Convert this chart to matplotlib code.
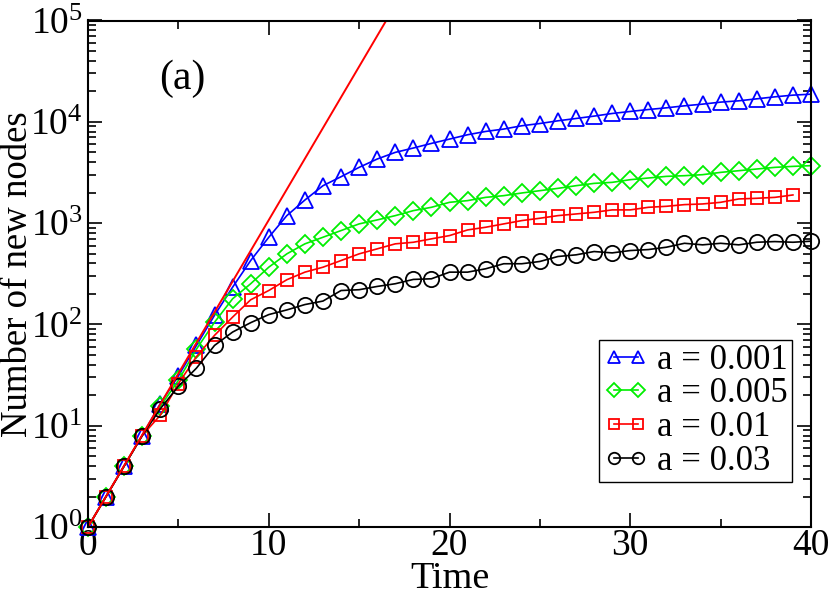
import matplotlib
matplotlib.use('Agg')
import matplotlib.pyplot as plt

# datos
time = list(range(41))
time_short = list(range(40))

nodes_a0001 = [1, 2, 4, 8, 16.5, 31,
               62, 123, 233, 427, 724,
               1185, 1690, 2340, 2870, 3550,
               4290, 4990, 5510, 6120, 6750,
               7450, 8030, 8480, 9140, 9620,
               10230, 10780, 11380, 12080, 12650,
               13220, 13740, 14380, 14940, 15640,
               16110, 16860, 17640, 18330, 18740]
nodes_a0005 = [1, 2, 4, 8, 15.5, 28,
               57, 105, 179, 252, 367,
               497, 624, 725, 844, 982,
               1075, 1185, 1328, 1432, 1604,
               1667, 1795, 1866, 1983, 2090,
               2203, 2340, 2467, 2525, 2683,
               2787, 2893, 2938, 3006, 3168,
               3290, 3420, 3550, 3630, 3690]
nodes_a001 = [1, 2, 4, 8, 12.7, 26,
              48, 78, 118, 175, 216,
              276, 328, 367, 427, 497,
              557, 624, 647, 699, 753,
              856, 910, 982, 1059, 1117,
              1185, 1231, 1279, 1350, 1350,
              1432, 1465, 1522, 1545, 1604,
              1731, 1758, 1795, 1896]
nodes_a003 = [1, 2, 4, 8, 14.7, 24.5,
              37, 62, 84, 104, 125,
              139, 157, 170, 216, 220,
              237, 252, 278, 282, 328,
              328, 354, 397, 397, 418,
              468, 486, 524, 508, 536,
              548, 578, 632, 610, 632,
              610, 647, 657, 647, 663]

# recta exponencial (roja)
fit_time = [0, 16.5]
fit_nodes = [1, 1e5]

plt.rcParams['font.family'] = ['Liberation Serif', 'DejaVu Serif']
plt.rcParams['mathtext.fontset'] = 'custom'
plt.rcParams['mathtext.rm'] = 'Liberation Serif'
plt.rcParams['mathtext.it'] = 'Liberation Serif:italic'
plt.rcParams['mathtext.bf'] = 'Liberation Serif:bold'

fig = plt.figure(figsize=(8.3, 5.92), dpi=100)
ax = fig.add_axes([88 / 830, 65 / 592, 723 / 830, 506.5 / 592])

lw = 1.2
ax.plot(time, nodes_a0001, color='blue', lw=lw, marker='^', ms=11,
        mfc='none', mec='blue', mew=1.3, label='a = 0.001', clip_on=False)
ax.plot(time, nodes_a0005, color='#00ee00', lw=lw, marker='D', ms=9,
        mfc='none', mec='#00ee00', mew=1.3, label='a = 0.005', clip_on=False)
ax.plot(time_short, nodes_a001, color='red', lw=lw, marker='s', ms=9,
        mfc='none', mec='red', mew=1.3, label='a = 0.01', clip_on=False)
ax.plot(time, nodes_a003, color='black', lw=lw, marker='o', ms=11,
        mfc='none', mec='black', mew=1.3, label='a = 0.03', clip_on=False)
ax.plot(fit_time, fit_nodes, color='red', lw=1.4)

ax.set_yscale('log')
ax.set_xlim(0, 40)
ax.set_ylim(1, 1e5)
ax.set_xticks([0, 10, 20, 30, 40])
ax.set_xticks([5, 15, 25, 35], minor=True)

ax.tick_params(which='both', direction='in', top=True, right=True,
               labelsize=27, width=1.2)
ax.tick_params(which='major', length=10, pad=1)
ax.tick_params(which='minor', length=5.5)
ax.tick_params(axis='y', which='major', pad=4)
for s in ax.spines.values():
    s.set_linewidth(1.5)

ax.set_xlabel('Time', fontsize=27.5, labelpad=-1)
ax.set_ylabel('Number of new nodes', fontsize=26.5, labelpad=-4)

ax.text(0.13, 0.885, '(a)', transform=ax.transAxes, fontsize=30,
        ha='center', va='center')

leg = ax.legend(loc='lower right', bbox_to_anchor=(0.974, 0.089),
                borderaxespad=0, fontsize=25, fancybox=False,
                edgecolor='black', framealpha=1, handlelength=1.3,
                handletextpad=0.25, labelspacing=0.02, borderpad=0.12,
                numpoints=2, markerscale=0.75)
leg.get_frame().set_linewidth(1.0)

fig.savefig('out.png', dpi=100)
